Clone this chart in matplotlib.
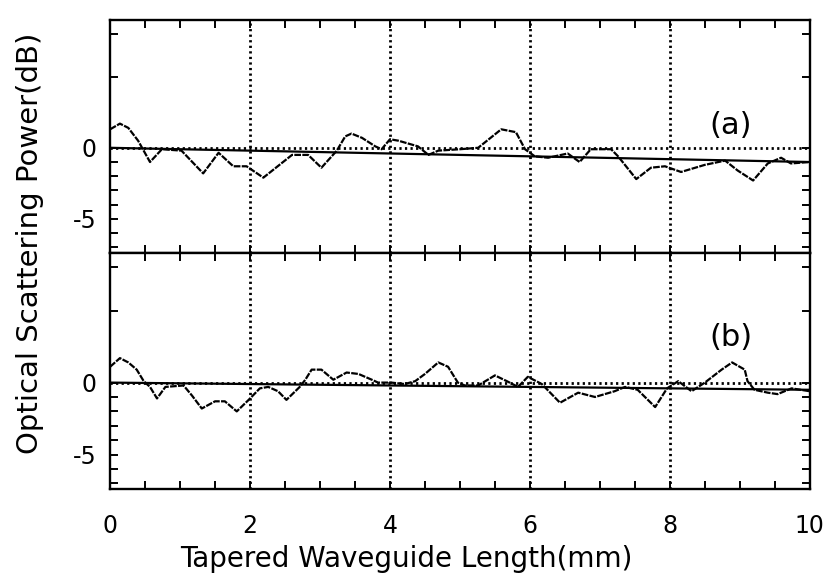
import matplotlib
matplotlib.use("Agg")
import matplotlib.pyplot as plt
from matplotlib.ticker import MultipleLocator, FixedLocator

# ---- dados ----
xa = [0, 0.14, 0.26, 0.40, 0.57, 0.74, 1.02, 1.33, 1.55, 1.76, 1.95, 2.19, 2.6, 2.83,
      3.02, 3.24, 3.36, 3.45, 3.6, 3.79, 3.88, 4.0, 4.12, 4.4, 4.55, 4.69, 5.0, 5.26,
      5.59, 5.8, 5.93, 6.07, 6.26, 6.54, 6.71, 6.87, 7.16, 7.26, 7.52, 7.73, 7.93,
      8.16, 8.5, 8.79, 8.97, 9.19, 9.4, 9.59, 9.73, 10.0]
ya = [1.3, 1.7, 1.4, 0.5, -1.0, -0.1, -0.2, -1.8, -0.35, -1.3, -1.3, -2.1, -0.5, -0.5,
      -1.4, -0.2, 0.8, 1.0, 0.7, 0.1, -0.1, 0.6, 0.5, 0.1, -0.5, -0.2, -0.1, 0.0,
      1.3, 1.1, -0.1, -0.6, -0.7, -0.4, -1.0, -0.1, -0.1, -0.6, -2.2, -1.4, -1.3,
      -1.7, -1.2, -0.9, -1.6, -2.3, -1.1, -0.7, -1.1, -1.0]

xb = [0, 0.14, 0.26, 0.38, 0.48, 0.57, 0.67, 0.79, 1.05, 1.17, 1.31, 1.5, 1.64, 1.81,
      1.98, 2.14, 2.26, 2.4, 2.52, 2.71, 2.79, 2.88, 3.02, 3.19, 3.38, 3.55, 3.74,
      3.83, 4.02, 4.21, 4.36, 4.5, 4.69, 4.83, 4.97, 5.07, 5.26, 5.5, 5.67, 5.83,
      5.97, 6.17, 6.43, 6.69, 6.93, 7.21, 7.36, 7.54, 7.79, 7.96, 8.12, 8.31, 8.5,
      8.74, 8.89, 9.07, 9.11, 9.21, 9.4, 9.54, 9.74, 10.0]
yb = [1.1, 1.7, 1.4, 0.9, 0.1, -0.3, -1.1, -0.3, -0.2, -0.9, -1.8, -1.3, -1.3, -2.0,
      -1.2, -0.4, -0.3, -0.6, -1.2, -0.3, 0.2, 0.9, 0.9, 0.2, 0.7, 0.6, 0.2,
      0.0, 0.0, -0.1, 0.1, 0.6, 1.4, 1.1, 0.0, -0.2, -0.2, 0.5, 0.1, -0.3,
      0.4, -0.1, -1.4, -0.7, -1.0, -0.6, -0.3, -0.5, -1.7, -0.4, 0.1, -0.6, 0.0,
      0.9, 1.4, 0.9, 0.1, -0.5, -0.7, -0.8, -0.4, -0.6]

fit_x = [0, 10]
fit_a = [0, -1.0]
fit_b = [0, -0.5]

grid_x = [2, 4, 6, 8]
y_minor = [-7, -6, -4, -3, -2, -1, 5, 8]

plt.rcParams["xtick.labelsize"] = 17
plt.rcParams["ytick.labelsize"] = 17

fig = plt.figure(figsize=(8.28, 5.83), dpi=100)
ax_a = fig.add_axes([0.133, 0.566, 0.845, 0.400])
ax_b = fig.add_axes([0.133, 0.161, 0.845, 0.405], sharex=ax_a)

dot = (0, (0.8, 1.2))

for ax, x, y, fy, lab, ly in [(ax_a, xa, ya, fit_a, "(a)", 1.6),
                              (ax_b, xb, yb, fit_b, "(b)", 3.1)]:
    ax.plot(x, y, color="black", lw=1.6, ls=(0, (3, 0.6)))
    ax.plot(fit_x, fy, color="black", lw=1.6)
    ax.axhline(0, color="black", lw=2.0, ls=dot)
    for gx in grid_x:
        ax.axvline(gx, color="black", lw=2.0, ls=dot)
    ax.text(8.87, ly, lab, fontsize=22, ha="center", va="center")

    ax.set_xlim(0, 10)
    ax.set_ylim(-7.4, 9.0)
    ax.set_yticks([-5, 0])
    ax.set_yticklabels(["-5", "0"])
    ax.yaxis.set_minor_locator(FixedLocator(y_minor))
    ax.xaxis.set_major_locator(MultipleLocator(2))
    ax.xaxis.set_minor_locator(MultipleLocator(0.5))
    ax.tick_params(which="both", direction="in", top=True, right=True,
                   length=6, width=1.4)
    ax.tick_params(axis="y", pad=10)
    for s in ax.spines.values():
        s.set_linewidth(1.7)

ax_a.tick_params(labelbottom=False)
ax_b.tick_params(axis="x", pad=18)
ax_b.set_xlabel("Tapered Waveguide Length(mm)", fontsize=20)
ax_b.xaxis.set_label_coords(0.424, -0.235)
fig.text(0.036, 0.583, "Optical Scattering Power(dB)", fontsize=21,
         rotation=90, ha="center", va="center")

fig.savefig("out.png", dpi=100, facecolor="white")
